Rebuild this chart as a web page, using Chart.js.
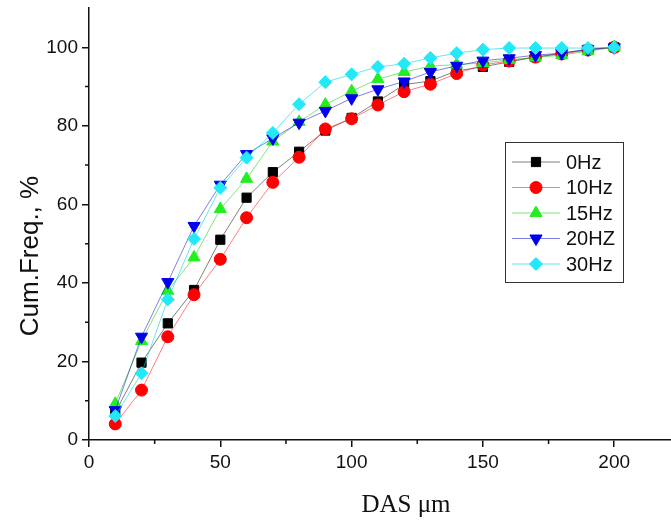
<!DOCTYPE html>
<html>
<head>
<meta charset="utf-8">
<script src="https://cdn.jsdelivr.net/npm/chart.js@4.4.1/dist/chart.umd.min.js"></script>
<style>
  html, body { margin: 0; padding: 0; background: #fff; }
  #wrap { width: 671px; height: 523px; position: relative; overflow: hidden; }
</style>
</head>
<body>
<div id="wrap"><canvas id="chart" width="680" height="523"></canvas></div>
<script>
// DAS size classes (um)
const das = [10, 20, 30, 40, 50, 60, 70, 80, 90, 100, 110, 120, 130, 140, 150, 160, 170, 180, 190, 200];

// cumulative frequency, %
const hz0  = [7, 19.7, 29.7, 38.2, 51, 61.7, 68.2, 73.4, 78.8, 82, 86.2, 90.5, 91.4, 94, 95, 96.3, 97.5, 98.5, 99.4, 100];
const hz10 = [4.1, 12.7, 26.3, 37, 46, 56.6, 65.6, 72, 79.2, 81.8, 85.3, 88.7, 90.6, 93.3, 95.5, 96.5, 97.5, 98.3, 99.3, 100];
const hz15 = [9.2, 25.2, 38, 46.5, 58.8, 66.5, 76, 81, 85.4, 88.8, 91.9, 93.7, 95.2, 95.6, 96, 96.8, 97.4, 98, 99, 100];
const hz20 = [7.6, 26.3, 40.2, 54.5, 65, 72.8, 76.8, 80.8, 83.8, 87, 89.3, 91.3, 93.7, 95.3, 96.6, 97.2, 98, 98.5, 99.5, 100];
const hz30 = [6.1, 17, 35.8, 51.2, 64.2, 71.9, 78.2, 85.5, 91.1, 93.1, 95, 95.8, 97.3, 98.5, 99.4, 99.8, 99.8, 99.8, 99.8, 100];

const seriesNames = ['0Hz', '10Hz', '15Hz', '20HZ', '30Hz'];
const seriesData = [hz0, hz10, hz15, hz20, hz30];
const colors = ['#000000', '#ff0000', '#22ee22', '#0000ee', '#22e8f8'];
const lineColors = ['rgba(0,0,0,0.5)', 'rgba(255,0,0,0.5)', 'rgba(0,200,0,0.5)', 'rgba(0,0,200,0.5)', 'rgba(0,210,230,0.6)'];
const markers = [
  { style: 'rect', rot: 0, r: 6.5 },
  { style: 'circle', rot: 0, r: 6 },
  { style: 'triangle', rot: 0, r: 7 },
  { style: 'triangle', rot: 180, r: 7 },
  { style: 'rectRot', rot: 0, r: 6.5 }
];

// axis ticks
const xMajor = [0, 50, 100, 150, 200];
const xMinor = [25, 75, 125, 175];
const yMajor = [0, 20, 40, 60, 80, 100];
const yMinor = [10, 30, 50, 70, 90];

const tickFont = { family: '"Liberation Sans", Arial, sans-serif', size: 19 };

const datasets = seriesNames.map((name, i) => ({
  label: name,
  data: das.map((d, k) => ({ x: d, y: seriesData[i][k] })),
  borderColor: lineColors[i],
  borderWidth: 1,
  backgroundColor: colors[i],
  pointBackgroundColor: colors[i],
  pointBorderColor: colors[i],
  pointBorderWidth: 1,
  pointStyle: markers[i].style,
  pointRotation: markers[i].rot,
  pointRadius: markers[i].r,
  pointHoverRadius: markers[i].r,
  tension: 0,
  order: seriesNames.length - i,
  clip: false
}));

// minor ticks + axis titles + legend box
const extras = {
  id: 'extras',
  afterDraw(chart) {
    const ctx = chart.ctx;
    const xs = chart.scales.x, ys = chart.scales.y;
    ctx.save();
    ctx.strokeStyle = '#111';
    ctx.lineWidth = 1.5;
    ctx.beginPath();
    xMinor.forEach(v => {
      const px = xs.getPixelForValue(v);
      ctx.moveTo(px, ys.bottom);
      ctx.lineTo(px, ys.bottom + 4);
    });
    yMinor.forEach(v => {
      const py = ys.getPixelForValue(v);
      ctx.moveTo(xs.left, py);
      ctx.lineTo(xs.left - 4, py);
    });
    ctx.stroke();

    // y title
    ctx.fillStyle = '#111';
    ctx.font = '26px "Liberation Sans", Arial, sans-serif';
    ctx.textAlign = 'center';
    ctx.textBaseline = 'middle';
    ctx.save();
    ctx.translate(31, 256);
    ctx.rotate(-Math.PI / 2);
    ctx.fillText('Cum.Freq., %', 0, 0);
    ctx.restore();

    // x title
    ctx.font = '25px "Liberation Serif", "Times New Roman", serif';
    ctx.fillText('DAS \u03bcm', 406, 505);

    // legend
    const bx = 505, by = 142, bw = 118, bh = 140;
    ctx.fillStyle = '#fff';
    ctx.fillRect(bx, by, bw, bh);
    ctx.strokeStyle = '#333';
    ctx.lineWidth = 1;
    ctx.strokeRect(bx + 0.5, by + 0.5, bw, bh);
    ctx.font = '20px "Liberation Sans", Arial, sans-serif';
    ctx.textAlign = 'left';
    seriesNames.forEach((name, i) => {
      const ly = by + 20 + i * 25.5;
      ctx.strokeStyle = lineColors[i];
      ctx.lineWidth = 1;
      ctx.beginPath();
      ctx.moveTo(bx + 7, ly);
      ctx.lineTo(bx + 55, ly);
      ctx.stroke();
      ctx.fillStyle = colors[i];
      ctx.strokeStyle = colors[i];
      Chart.helpers.drawPoint(ctx, {
        pointStyle: markers[i].style,
        rotation: markers[i].rot,
        radius: markers[i].r,
        borderWidth: 1
      }, bx + 31, ly);
      ctx.fillStyle = '#111';
      ctx.fillText(name, bx + 61, ly + 1);
    });
    ctx.restore();
  }
};

new Chart(document.getElementById('chart'), {
  type: 'line',
  data: { datasets: datasets },
  options: {
    responsive: false,
    animation: false,
    layout: { padding: { top: 7, right: 0, bottom: 0, left: 0 } },
    scales: {
      x: {
        type: 'linear',
        min: 0,
        max: 222,
        afterBuildTicks: axis => { axis.ticks = xMajor.map(v => ({ value: v })); },
        afterFit: axis => { axis.height = 83; axis.paddingLeft = 0; axis.paddingRight = 0; },
        border: { display: true, color: '#111', width: 1.5 },
        grid: { drawOnChartArea: false, drawTicks: true, tickLength: 7, color: '#111', lineWidth: 1.5 },
        ticks: { color: '#111', font: tickFont, padding: 4, maxRotation: 0 }
      },
      y: {
        min: 0,
        max: 110,
        afterBuildTicks: axis => { axis.ticks = yMajor.map(v => ({ value: v })); },
        afterFit: axis => { axis.width = 89; axis.paddingTop = 0; axis.paddingBottom = 0; },
        border: { display: true, color: '#111', width: 1.5 },
        grid: { drawOnChartArea: false, drawTicks: true, tickLength: 7, color: '#111', lineWidth: 1.5 },
        ticks: { color: '#111', font: tickFont, padding: 4 }
      }
    },
    plugins: {
      legend: { display: false },
      tooltip: { enabled: false }
    }
  },
  plugins: [extras]
});
</script>
</body>
</html>
